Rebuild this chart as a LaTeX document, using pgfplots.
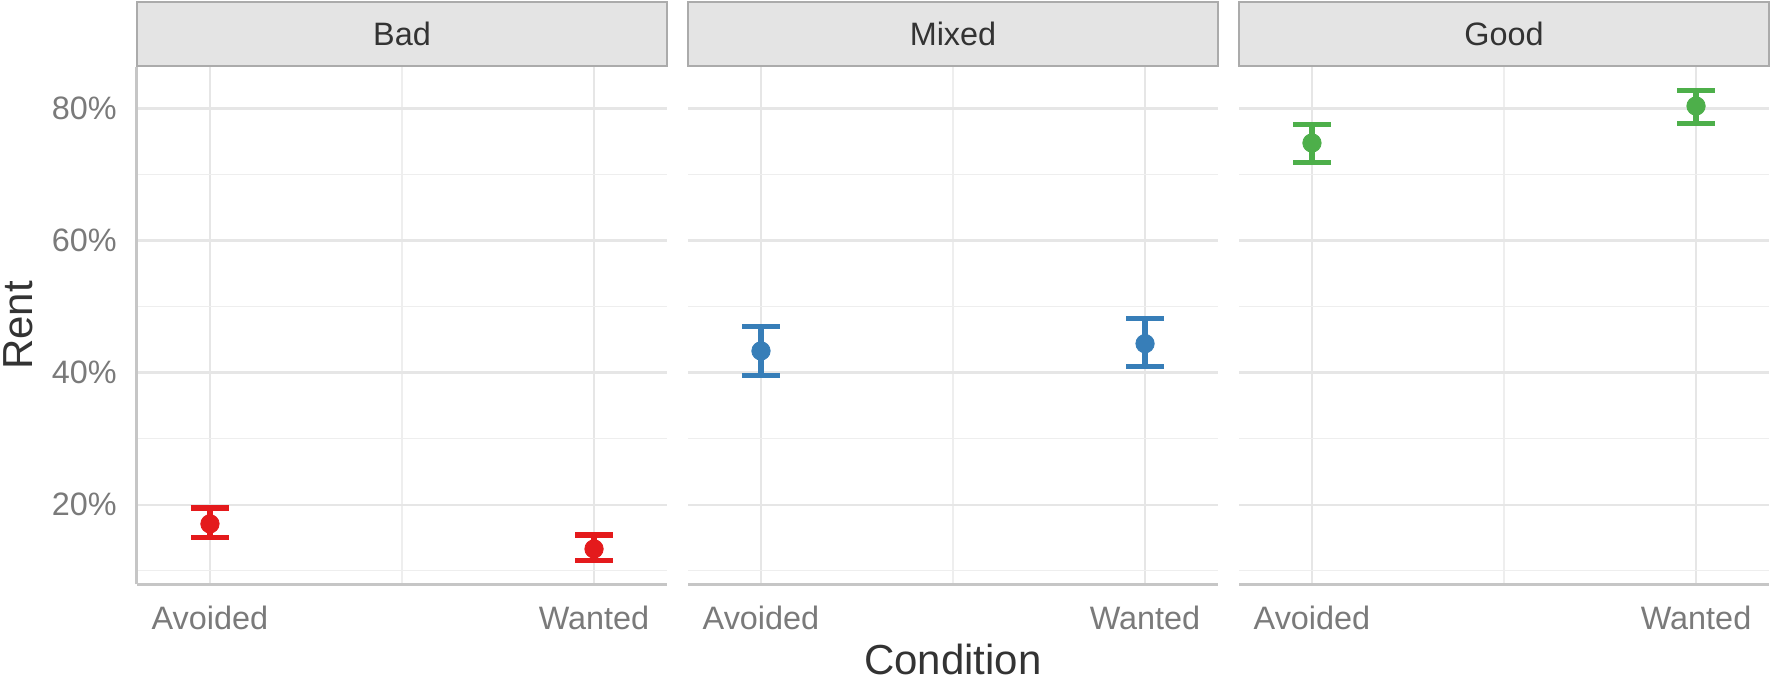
\documentclass[border=0pt]{standalone}
\usepackage{pgfplots}
\pgfplotsset{compat=1.18}
\usepackage{fontspec}
\setmainfont{Liberation Sans}

\definecolor{c1}{HTML}{E41A1C}
\definecolor{c2}{HTML}{377EB8}
\definecolor{c3}{HTML}{4DAF4A}
\definecolor{stripfill}{HTML}{E4E4E4}
\definecolor{stripdraw}{HTML}{ABABAB}
\definecolor{striptext}{HTML}{333333}
\definecolor{tickgray}{HTML}{7A7A7A}
\definecolor{titlegray}{HTML}{333333}
\definecolor{gridmaj}{HTML}{E6E6E6}
\definecolor{gridmin}{HTML}{EEEEEE}
\definecolor{axgray}{HTML}{C6C6C6}

\pgfplotstableread{
x y ep em
1 17.1 2.4 2.1
2 13.3 2.1 1.8
}\bad
\pgfplotstableread{
x y ep em
1 43.3 3.7 3.7
2 44.4 3.8 3.5
}\mixed
\pgfplotstableread{
x y ep em
1 74.8 2.8 3.0
2 80.4 2.4 2.6
}\good

\pgfplotsset{
  facet/.style={
    scale only axis, width=265pt, height=258.8pt,
    anchor=south west,
    xmin=0.81, xmax=2.19, ymin=7.94, ymax=86.36,
    xtick={1,2}, xticklabels={Avoided,Wanted}, minor xtick={1.5},
    ytick={20,40,60,80}, minor ytick={10,30,50,70},
    xmajorgrids, xminorgrids, ymajorgrids, yminorgrids,
    major grid style={draw=gridmaj, line width=1.2pt},
    minor grid style={draw=gridmin, line width=0.6pt},
    major tick length=0pt, minor tick length=0pt,
    axis line style={draw=none},
    tick label style={font=\fontsize{16.2}{19}\selectfont, text=tickgray},
    xticklabel style={anchor=base, yshift=-22.5pt, inner sep=0pt},
    yticklabel style={anchor=east, xshift=-10pt, inner sep=0pt},
    every axis title/.style={at={(rel axis cs:0.5,1)}, anchor=south,
      fill=stripfill, draw=stripdraw, line width=0.8pt,
      minimum width=265pt, minimum height=32pt, inner sep=0pt,
      font=\fontsize{16.2}{19}\selectfont, text=striptext},
    clip=false,
    extra description/.code={
      \draw[axgray, line width=1.5pt] (rel axis cs:0,0) -- (rel axis cs:1,0);
    },
  },
  pts/.style={only marks, mark=*, mark size=4.6pt, color=#1,
    mark options={fill=#1, draw=#1, line width=0.4pt},
    error bars/.cd, y dir=both, y explicit,
    error bar style={line width=2.6pt, color=#1},
    error mark options={rotate=90, mark size=9.4pt, line width=2.6pt, color=#1}},
}

\begin{document}
\begin{tikzpicture}
\useasboundingbox (0,0) rectangle (886pt,340.5pt);

\begin{axis}[facet, at={(68.5pt,48.35pt)},
  title={Bad},
  yticklabels={20\%,40\%,60\%,80\%},
  ylabel={Rent},
  every axis y label/.style={at={(rel axis cs:0,0.5)}, xshift=-52.3pt, rotate=90, anchor=base,
    font=\fontsize{21}{24}\selectfont, text=titlegray},
  extra description/.append code={
    \draw[axgray, line width=1.5pt] (rel axis cs:0,0) -- (rel axis cs:0,1);
  },
]
\addplot[pts=c1] table[x=x, y=y, y error plus=ep, y error minus=em] {\bad};
\end{axis}

\begin{axis}[facet, at={(344pt,48.35pt)},
  title={Mixed},
  yticklabels={},
  xlabel={Condition},
  every axis x label/.style={at={(rel axis cs:0.5,0)}, yshift=-45.3pt, anchor=base,
    font=\fontsize{21}{24}\selectfont, text=titlegray},
]
\addplot[pts=c2] table[x=x, y=y, y error plus=ep, y error minus=em] {\mixed};
\end{axis}

\begin{axis}[facet, at={(619.5pt,48.35pt)},
  title={Good},
  yticklabels={},
]
\addplot[pts=c3] table[x=x, y=y, y error plus=ep, y error minus=em] {\good};
\end{axis}
\end{tikzpicture}
\end{document}
